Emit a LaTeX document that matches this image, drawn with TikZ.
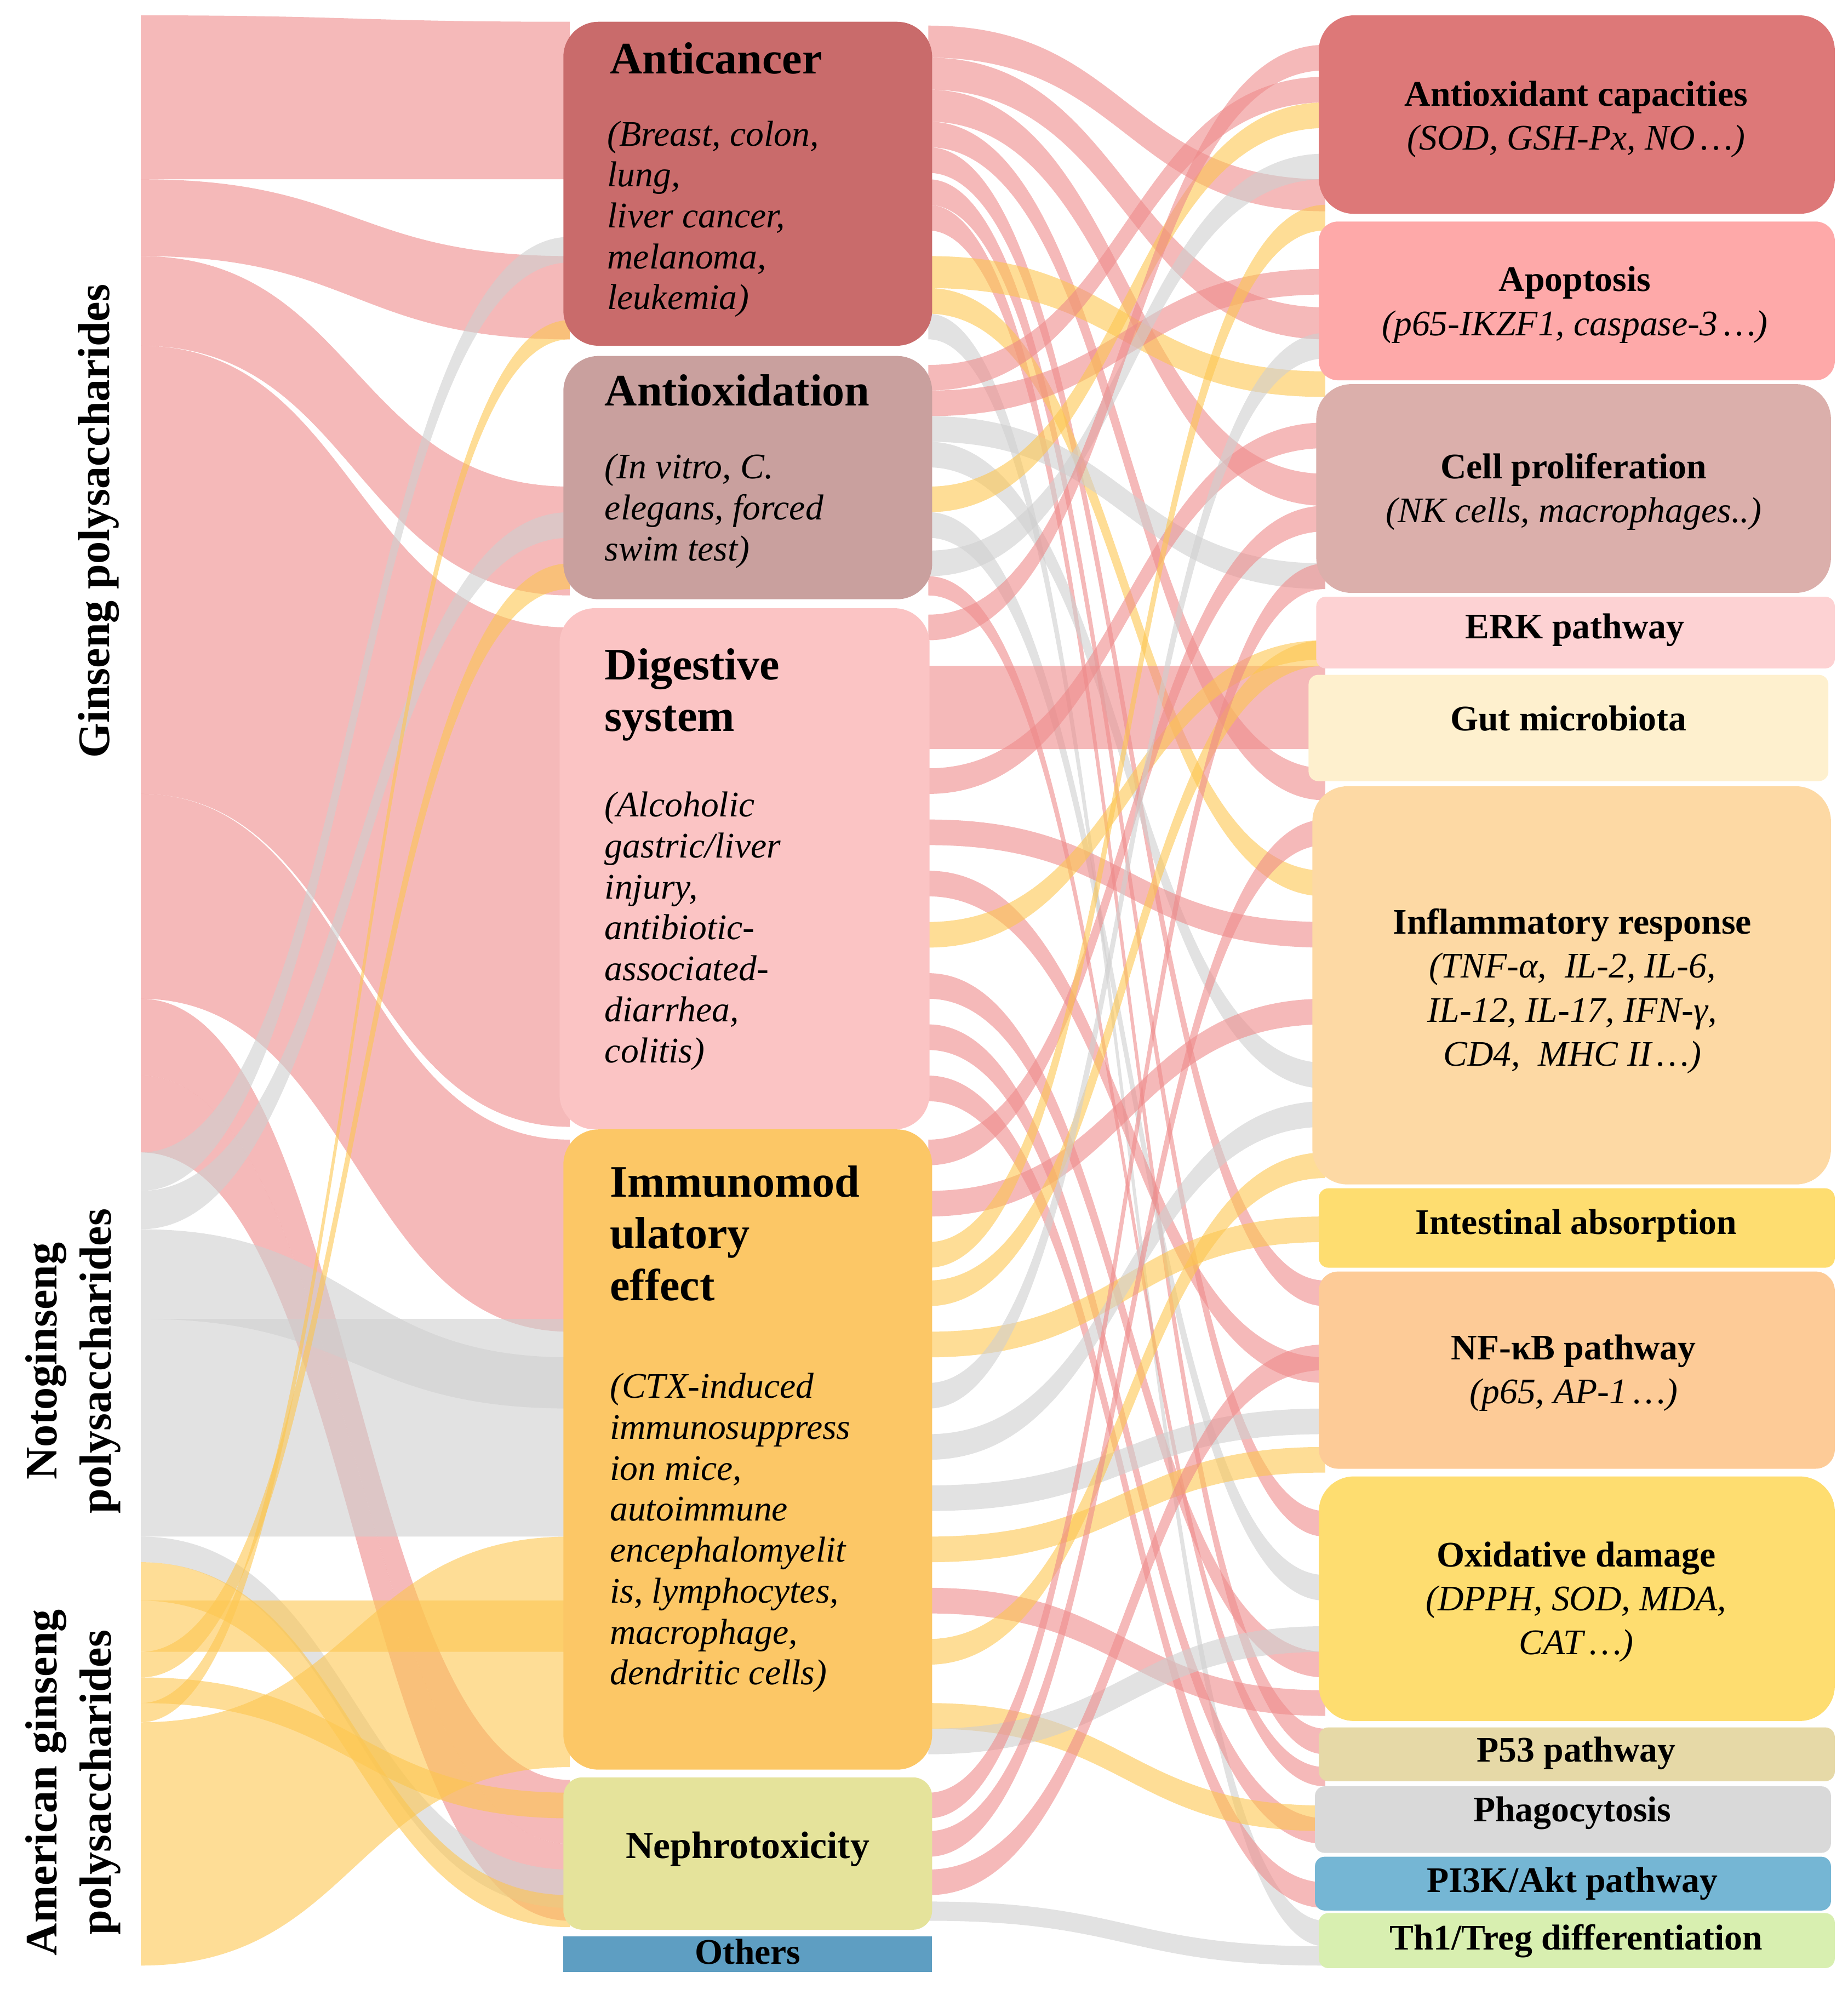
\documentclass[tikz,border=0pt]{standalone}
\usepackage{fontspec}
\setmainfont{Liberation Serif}
\definecolor{fr}{HTML}{EE8A8A}\definecolor{fg}{HTML}{CFCFCF}\definecolor{fy}{HTML}{FDC650}
\definecolor{m1}{HTML}{C96B6B}\definecolor{m2}{HTML}{C9A09E}\definecolor{m3}{HTML}{FBC4C4}
\definecolor{m4}{HTML}{FCC766}\definecolor{m5}{HTML}{E5E39B}\definecolor{m6}{HTML}{5E9EC2}
\definecolor{c1}{HTML}{DD7878}\definecolor{c2}{HTML}{FEA9A9}\definecolor{c3}{HTML}{DBAFAB}
\definecolor{c4}{HTML}{FDD2D3}\definecolor{c5}{HTML}{FEF0CE}\definecolor{c6}{HTML}{FDD9A4}
\definecolor{c7}{HTML}{FEDD70}\definecolor{c8}{HTML}{FDCB97}\definecolor{c10}{HTML}{E6D9A7}
\definecolor{c11}{HTML}{D9D9D9}\definecolor{c12}{HTML}{75B6D4}\definecolor{c13}{HTML}{D8EFB0}
\begin{document}
\begin{tikzpicture}[x=0.02cm,y=-0.02cm,
 box/.style={rounded corners=0.55cm},
 ttl/.style={font=\fontsize{20}{23}\selectfont\bfseries,anchor=north west,align=left,inner sep=0},
 bdy/.style={font=\fontsize{16}{18.2}\selectfont\itshape,anchor=north west,align=left,inner sep=0},
 rt/.style={font=\fontsize{16}{19.5}\selectfont,align=center,inner sep=0}]
\useasboundingbox (0,0) rectangle (1443,1558);
\newcommand\band[7]{\fill[#7,opacity=.6] (#1,#2) .. controls ({(#1+#4)/2},#2) and ({(#1+#4)/2},#5) .. (#4,#5) -- (#4,#6) .. controls ({(#1+#4)/2},#6) and ({(#1+#4)/2},#3) .. (#1,#3) -- cycle;}
\newcommand\lf[5]{\band{110}{#1}{#2}{445}{#3}{#4}{#5}}
\newcommand\rf[5]{\band{725}{#1}{#2}{1035}{#3}{#4}{#5}}
% left flows
\lf{12}{140}{17}{140}{fr}
\lf{140}{200}{200}{265}{fr}
\lf{200}{270}{380}{465}{fr}
\lf{270}{620}{490}{880}{fr}
\lf{620}{780}{890}{1040}{fr}
\lf{780}{840}{1390}{1440}{fr}
\lf{840}{900}{1440}{1500}{fr}
\lf{900}{930}{185}{205}{fg}
\lf{930}{960}{400}{420}{fg}
\lf{960}{1030}{1060}{1100}{fg}
\lf{1030}{1200}{1030}{1200}{fg}
\lf{1200}{1220}{1460}{1490}{fg}
\lf{1220}{1250}{1480}{1505}{fy}
\lf{1250}{1290}{1250}{1290}{fy}
\lf{1290}{1310}{440}{460}{fy}
\lf{1310}{1330}{1400}{1420}{fy}
\lf{1330}{1345}{250}{265}{fy}
\lf{1345}{1535}{1200}{1380}{fy}
% right flows
\rf{20}{45}{140}{165}{fr}\rf{45}{70}{240}{265}{fr}\rf{70}{95}{370}{395}{fr}
\rf{95}{115}{600}{625}{fr}\rf{115}{135}{1000}{1020}{fr}\rf{140}{160}{1180}{1200}{fr}
\rf{160}{180}{1350}{1370}{fr}\rf{200}{225}{290}{310}{fy}\rf{225}{245}{680}{700}{fy}
\rf{245}{265}{1500}{1520}{fg}
\rf{285}{305}{60}{80}{fr}\rf{305}{325}{210}{230}{fr}\rf{325}{345}{440}{460}{fg}
\rf{345}{365}{830}{850}{fg}\rf{380}{400}{80}{100}{fy}\rf{400}{420}{1230}{1250}{fg}
\rf{430}{450}{120}{140}{fg}\rf{450}{465}{1380}{1395}{fr}
\rf{480}{500}{35}{55}{fr}\rf{520}{585}{520}{585}{fr}\rf{600}{620}{330}{350}{fr}
\rf{640}{660}{720}{740}{fr}\rf{680}{700}{1060}{1080}{fr}\rf{720}{740}{500}{515}{fy}
\rf{760}{780}{1290}{1310}{fr}\rf{800}{820}{1420}{1440}{fr}\rf{840}{860}{1470}{1490}{fr}
\rf{890}{910}{395}{415}{fr}\rf{930}{950}{780}{800}{fr}\rf{970}{990}{160}{180}{fy}
\rf{1000}{1020}{500}{520}{fy}\rf{1040}{1060}{950}{970}{fy}\rf{1080}{1100}{260}{280}{fg}
\rf{1120}{1140}{860}{880}{fg}\rf{1160}{1180}{1100}{1120}{fg}\rf{1200}{1220}{1130}{1150}{fy}
\rf{1240}{1260}{1320}{1340}{fr}\rf{1280}{1300}{900}{920}{fy}\rf{1330}{1350}{1410}{1430}{fy}
\rf{1350}{1370}{1270}{1290}{fg}
\rf{1400}{1420}{440}{460}{fr}\rf{1430}{1450}{640}{660}{fr}\rf{1460}{1480}{1050}{1070}{fr}
\rf{1485}{1500}{1520}{1535}{fg}
% middle nodes
\fill[box,fill=m1] (440,17) rectangle (728,270);
\fill[box,fill=m2] (440,278) rectangle (728,468);
\fill[box,fill=m3] (437,475) rectangle (726,882);
\fill[box,fill=m4] (440,882) rectangle (728,1382);
\fill[box,rounded corners=0.3cm,fill=m5] (440,1388) rectangle (728,1507);
\fill[fill=m6] (440,1512) rectangle (728,1540);
\node[ttl] (t1) at (476,33) {Anticancer};
\node[bdy] (b1) at (474,94) {(Breast, colon,\\lung,\\liver cancer,\\melanoma,\\leukemia)};
\node[ttl] (t2) at (472,292) {Antioxidation};
\node[bdy] (b2) at (472,354) {(In vitro, C.\\elegans, forced\\swim test)};
\node[ttl] (t3) at (472,506) {Digestive\\system};
\node[bdy] (b3) at (472,618) {(Alcoholic\\gastric/liver\\injury,\\antibiotic-\\associated-\\diarrhea,\\colitis)};
\node[ttl] (t4) at (476,910) {Immunomod\\ulatory\\effect};
\node[bdy] (b4) at (476,1072) {(CTX-induced\\immunosuppress\\ion mice,\\autoimmune\\encephalomyelit\\is, lymphocytes,\\macrophage,\\dendritic cells)};
\node[font=\fontsize{17}{20}\selectfont\bfseries] (t5) at (584,1444) {Nephrotoxicity};
\node[font=\fontsize{16}{18}\selectfont\bfseries] (t6) at (584,1524) {Others};
% right nodes
\fill[box,fill=c1] (1030,12) rectangle (1433,167);
\fill[box,rounded corners=0.3cm,fill=c2] (1030,173) rectangle (1433,297);
\fill[box,fill=c3] (1028,300) rectangle (1430,463);
\fill[rounded corners=0.15cm,fill=c4] (1028,466) rectangle (1433,522);
\fill[rounded corners=0.15cm,fill=c5] (1022,527) rectangle (1428,610);
\fill[box,fill=c6] (1025,614) rectangle (1430,925);
\fill[rounded corners=0.15cm,fill=c7] (1030,928) rectangle (1433,990);
\fill[box,rounded corners=0.3cm,fill=c8] (1030,993) rectangle (1433,1147);
\fill[box,fill=c7] (1030,1153) rectangle (1433,1344);
\fill[rounded corners=0.15cm,fill=c10] (1030,1349) rectangle (1433,1391);
\fill[rounded corners=0.15cm,fill=c11] (1027,1395) rectangle (1430,1447);
\fill[rounded corners=0.15cm,fill=c12] (1027,1450) rectangle (1430,1492);
\fill[rounded corners=0.15cm,fill=c13] (1030,1494) rectangle (1433,1537);
\node[rt] (r1) at (1231,93) {\textbf{Antioxidant capacities}\\\textit{(SOD, GSH-Px, NO\,…)}};
\node[rt] (r2) at (1230,238) {\textbf{Apoptosis}\\\textit{(p65-IKZF1, caspase-3\,…)}};
\node[rt] (r3) at (1229,384) {\textbf{Cell proliferation}\\\textit{(NK cells, macrophages..)}};
\node[rt] (r4) at (1230,492) {\textbf{ERK pathway}};
\node[rt] (r5) at (1225,561) {\textbf{Gut microbiota}};
\node[rt] (r6) at (1228,774) {\textbf{Inflammatory response}\\\textit{(TNF-α,\ \ IL-2, IL-6,}\\\textit{IL-12, IL-17, IFN-γ,}\\\textit{CD4,\ \ MHC II\,…)}};
\node[rt] (r7) at (1231,957) {\textbf{Intestinal absorption}};
\node[rt] (r8) at (1229,1072) {\textbf{NF-κB pathway}\\\textit{(p65, AP-1\,…)}};
\node[rt] (r9) at (1231,1251) {\textbf{Oxidative damage}\\\textit{(DPPH, SOD, MDA,}\\\textit{CAT\,…)}};
\node[rt] (r10) at (1231,1369) {\textbf{P53 pathway}};
\node[rt] (r11) at (1228,1416) {\textbf{Phagocytosis}};
\node[rt] (r12) at (1228,1471) {\textbf{PI3K/Akt pathway}};
\node[rt] (r13) at (1231,1516) {\textbf{Th1/Treg differentiation}};
% left labels
\node[rotate=90,font=\fontsize{20}{24}\selectfont\bfseries] (g1) at (77,407) {Ginseng polysaccharides};
\node[rotate=90,align=center,font=\fontsize{20}{24}\selectfont\bfseries] (g2) at (57,1063) {Notoginseng\\polysaccharides};
\node[rotate=90,align=center,font=\fontsize{20}{24}\selectfont\bfseries] (g3) at (57,1392) {American ginseng\\polysaccharides};
\end{tikzpicture}
\end{document}
